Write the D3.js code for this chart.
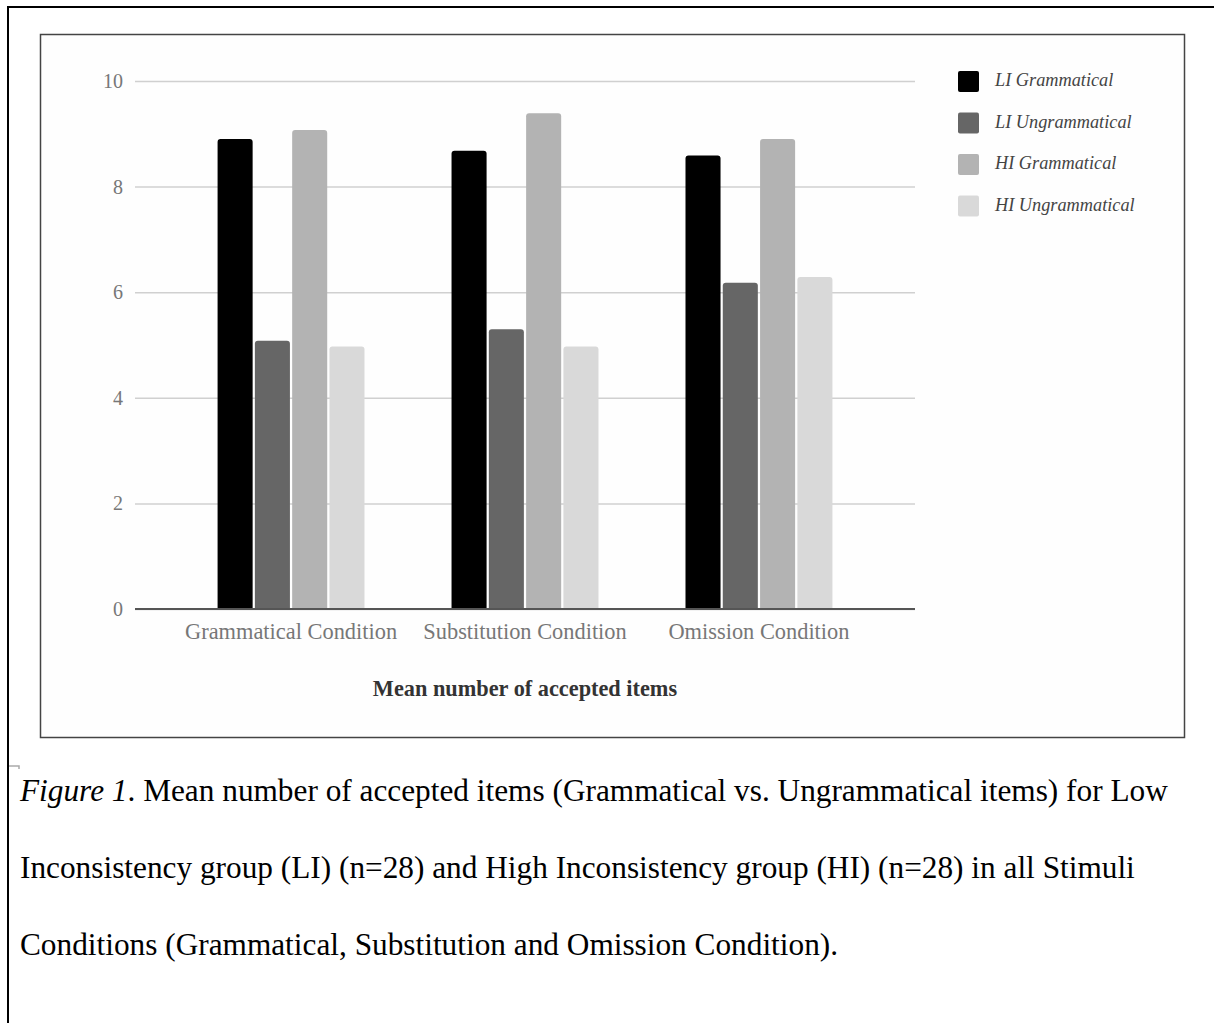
<!DOCTYPE html>
<html>
<head>
<meta charset="utf-8">
<script src="https://cdn.jsdelivr.net/npm/d3@7"></script>
<style>
  html, body { margin: 0; padding: 0; background: #fff; }
  svg { display: block; }
  text { font-family: "Liberation Serif", "Times New Roman", serif; }
</style>
</head>
<body>
<svg id="chart" width="1214" height="1023"></svg>
<script>
// ---- data ----
const categories = ["Grammatical Condition", "Substitution Condition", "Omission Condition"];
const seriesNames = ["LI Grammatical", "LI Ungrammatical", "HI Grammatical", "HI Ungrammatical"];
const liGrammatical   = [8.90, 8.68, 8.59];
const liUngrammatical = [5.08, 5.30, 6.18];
const hiGrammatical   = [9.07, 9.39, 8.90];
const hiUngrammatical = [4.97, 4.97, 6.29];
const yTicks = [0, 2, 4, 6, 8, 10];
const xAxisTitle = "Mean number of accepted items";
const captionLines = [
  [{t: "Figure 1", i: true}, {t: ". Mean number of accepted items (Grammatical vs. Ungrammatical items) for Low", i: false}],
  [{t: "Inconsistency group (LI) (n=28) and High Inconsistency group (HI) (n=28) in all Stimuli", i: false}],
  [{t: "Conditions (Grammatical, Substitution and Omission Condition).", i: false}]
];

const seriesValues = [liGrammatical, liUngrammatical, hiGrammatical, hiUngrammatical];
const colors = ["#000000", "#666666", "#b3b3b3", "#d9d9d9"];

const svg = d3.select("#chart");
svg.append("rect").attr("width", 1214).attr("height", 1023).attr("fill", "#fff");

// page border (top and left)
svg.append("line").attr("x1", 8).attr("x2", 1214).attr("y1", 7).attr("y2", 7)
  .attr("stroke", "#000").attr("stroke-width", 2);
svg.append("line").attr("x1", 8).attr("x2", 8).attr("y1", 6).attr("y2", 1023)
  .attr("stroke", "#000").attr("stroke-width", 2);
svg.append("path").attr("d", "M9,766 H19 V769").attr("fill", "none")
  .attr("stroke", "#aaa").attr("stroke-width", 1.5);

// chart frame
svg.append("rect").attr("x", 40.5).attr("y", 34.5).attr("width", 1144).attr("height", 703)
  .attr("fill", "#fefefe").attr("stroke", "#444").attr("stroke-width", 1.5);

const plotLeft = 135, plotRight = 915, plotTop = 81, plotBottom = 609;

const y = d3.scaleLinear().domain([0, 10]).range([plotBottom, plotTop]);
const x0 = d3.scaleBand().domain(categories).range([plotLeft, plotRight])
  .paddingInner(0.372).paddingOuter(0.353);
const x1 = d3.scaleBand().domain(seriesNames).range([0, x0.bandwidth()]).paddingInner(0.06).paddingOuter(0);

// gridlines + y labels via axis
const yAxis = d3.axisLeft(y).tickValues(yTicks).tickSize(-(plotRight - plotLeft)).tickPadding(12);
const gy = svg.append("g").attr("transform", `translate(${plotLeft},0)`).call(yAxis);
gy.select(".domain").remove();
gy.selectAll(".tick line").attr("stroke", "#d0d0d0").attr("stroke-width", 1.5);
gy.selectAll(".tick text").attr("font-family", "Liberation Serif").attr("font-size", 20)
  .attr("fill", "#777");

// bars
const rows = categories.map((c, ci) => ({ cat: c, vals: seriesNames.map((s, si) => ({ s, si, v: seriesValues[si][ci] })) }));
function barPath(x, yTop, w, yBase, r) {
  return `M${x},${yBase} V${yTop + r} Q${x},${yTop} ${x + r},${yTop} H${x + w - r} Q${x + w},${yTop} ${x + w},${yTop + r} V${yBase} Z`;
}
const groups = svg.append("g").selectAll("g").data(rows).join("g")
  .attr("transform", d => `translate(${x0(d.cat)},0)`);
groups.selectAll("path").data(d => d.vals).join("path")
  .attr("d", d => barPath(x1(d.s), y(d.v), x1.bandwidth(), y(0), 3))
  .attr("fill", d => colors[d.si]);

// x axis baseline + labels
const xAxis = d3.axisBottom(x0).tickSize(0).tickPadding(14);
const gx = svg.append("g").attr("transform", `translate(0,${y(0)})`).call(xAxis);
gx.select(".domain").remove();
svg.append("line").attr("x1", plotLeft).attr("x2", plotRight).attr("y1", y(0)).attr("y2", y(0))
  .attr("stroke", "#555").attr("stroke-width", 2);
gx.selectAll(".tick text").attr("font-family", "Liberation Serif").attr("font-size", 22.4)
  .attr("fill", "#777");

// x axis title
svg.append("text").attr("x", 525).attr("y", 696).attr("text-anchor", "middle")
  .attr("font-size", 22.3).attr("font-weight", "bold").attr("fill", "#333").text(xAxisTitle);

// legend
const legend = svg.append("g").selectAll("g").data(seriesNames).join("g")
  .attr("transform", (d, i) => `translate(958,${71 + i * 41.5})`);
legend.append("rect").attr("width", 21).attr("height", 21).attr("rx", 2).attr("fill", (d, i) => colors[i]);
legend.append("text").attr("x", 37).attr("y", 15).attr("font-size", 18.3).attr("font-style", "italic")
  .attr("fill", "#444").text(d => d);

// caption
const cap = svg.append("g");
captionLines.forEach((line, li) => {
  const t = cap.append("text").attr("x", 20).attr("y", 801 + li * 77).attr("font-size", 31.3).attr("fill", "#000");
  line.forEach(seg => {
    t.append("tspan").attr("font-style", seg.i ? "italic" : "normal").text(seg.t);
  });
});
</script>
</body>
</html>
